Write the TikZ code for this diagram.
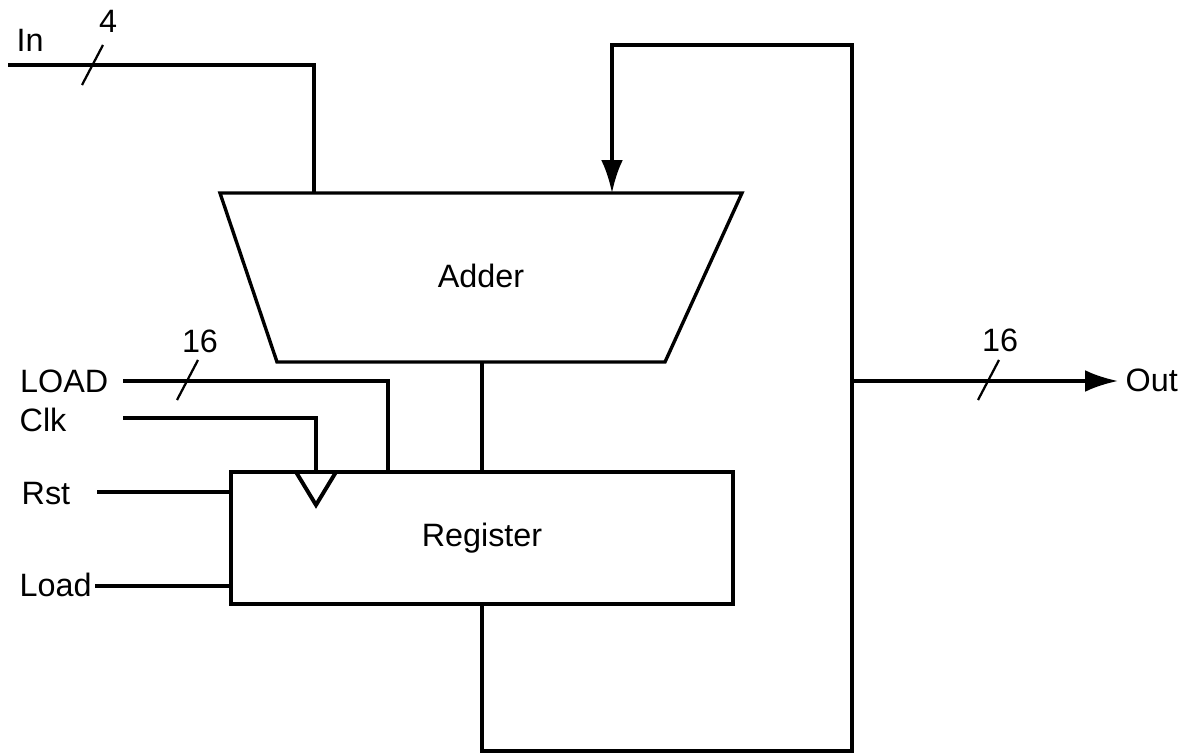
\documentclass[tikz,border=0pt]{standalone}
\usepackage{fontspec}
\setmainfont{Liberation Sans}
\usetikzlibrary{arrows.meta,positioning}

\begin{document}
\begin{tikzpicture}[x=0.025cm,y=-0.025cm,line width=2.4pt,
        lbl/.style = {font=\fontsize{23}{27}\selectfont,inner sep=0pt,anchor=base west},
        num/.style = {font=\fontsize{23}{27}\selectfont,inner sep=0pt,anchor=base},
        bus/.style = {line width=1.6pt},
        tip/.style = {-{Latex[length=8.2mm,width=5.4mm]}}]
    \useasboundingbox (0,0) rectangle (1191,753);
    % adder and register
    \draw (220,193) coordinate (addTL) -- (742,193) coordinate (addTR) -- (665,362) coordinate (addBR) -- (277,362) coordinate (addBL) -- cycle;
    \node[num] (adder) at (481,288) {Adder};
    \draw (231,472) coordinate (regTL) rectangle (733,604) coordinate (regBR);
    \node[num] (register) at (482,547) {Register};
    \draw[line width=2.8pt] (296,472) coordinate (clkL) -- (336,472) coordinate (clkR) -- (316,505) coordinate (clkT) -- cycle;
    % pins
    \coordinate (inA) at (8,65);   \coordinate (inB) at (314,193);
    \coordinate (ldA) at (123,381); \coordinate (ldB) at (388,472);
    \coordinate (ckA) at (123,418); \coordinate (ckB) at (316,472);
    \coordinate (rsA) at (97,492);  \coordinate (rsB) at (231,492);
    \coordinate (lA) at (95,586);   \coordinate (lB) at (231,586);
    \coordinate (sumA) at (482,362); \coordinate (sumB) at (482,472);
    \coordinate (qA) at (482,604);  \coordinate (fbB) at (612,193);
    \coordinate (fbX) at (852,45);  \coordinate (outJ) at (852,381);
    \coordinate (outB) at (1118,381);
    % labels
    \node[lbl] (in) at (15,52) {In};
    \node[num] (inW) at (108,33) {4};
    \node[lbl,anchor=base east] (load) at (110,393) {LOAD};
    \node[num] (loadW) at (200,353) {16};
    \node[lbl] (clk) at (18,432) {Clk};
    \node[lbl] (rst) at (20,505) {Rst};
    \node[lbl] (ld) at (18,597) {Load};
    \node[lbl] (out) at (1124,392) {Out};
    \node[num] (outW) at (1000,352) {16};
    % wires
    \draw (inA) -| (inB);
    \draw (ldA) -| (ldB);
    \draw (ckA) -| (ckB);
    \draw (rsA) -- (rsB);
    \draw (lA) -- (lB);
    \draw (sumA) -- (sumB);
    \draw[tip] (qA) |- (852,751) -- (fbX) -| (fbB);
    \draw[tip] (outJ) -- (outB);
    % bus widths
    \draw[bus] (82,85) -- (103,45);
    \draw[bus] (177,400) -- (198,360);
    \draw[bus] (978,400) -- (999,360);
\end{tikzpicture}
\end{document}
